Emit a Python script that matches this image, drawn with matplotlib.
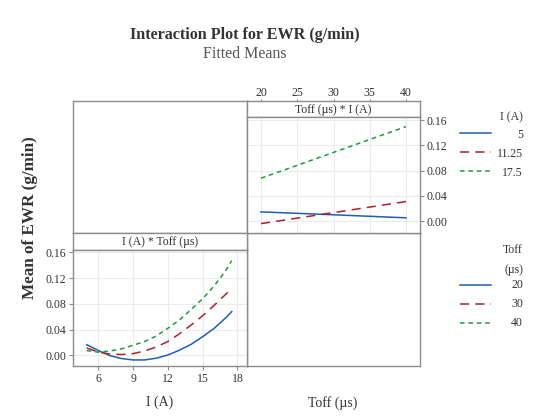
import matplotlib
matplotlib.use("Agg")
import matplotlib.pyplot as plt

plt.rcParams['font.family'] = ['Liberation Serif', 'DejaVu Serif']

# I (A) on x, one line per Toff level
current = [5, 6, 7, 8, 9, 10, 11, 12, 13, 14, 15, 16, 17, 17.5]
toff_20 = [0.0166, 0.0075, -0.0005, -0.0050, -0.0072, -0.0072, -0.0045, 0.0005,
           0.0080, 0.0170, 0.0290, 0.0420, 0.0585, 0.0680]
toff_30 = [0.0114, 0.0050, 0.0020, 0.0012, 0.0026, 0.0068, 0.0130, 0.0215,
           0.0335, 0.0470, 0.0615, 0.0780, 0.0950, 0.1040]
toff_40 = [0.0073, 0.0050, 0.0067, 0.0100, 0.0156, 0.0215, 0.0300, 0.0420,
           0.0550, 0.0710, 0.0880, 0.1080, 0.1320, 0.1470]

# Toff (us) on x, one line per I level
toff = [20, 30, 40]
i_5 = [0.0146, 0.0100, 0.0052]
i_1125 = [-0.0040, 0.0135, 0.0310]
i_175 = [0.0680, 0.1090, 0.1500]

yticks = [0.00, 0.04, 0.08, 0.12, 0.16]
ylabels = ['0.00', '0.04', '0.08', '0.12', '0.16']

blue = '#1f5fb0'
red = '#a82428'
green = '#1e9a40'
edge = '#8c8c8c'
txt = '#333333'
W, H = 542, 418

fig = plt.figure(figsize=(5.42, 4.18), dpi=100)


def box(x0, y0, x1, y1):
    # pixel box -> figure axes
    return fig.add_axes([x0 / W, 1 - y1 / H, (x1 - x0) / W, (y1 - y0) / H])


def frame(ax):
    for s in ax.spines.values():
        s.set_color(edge)
        s.set_linewidth(1.0)


def strip(x0, y0, x1, y1, label):
    ax = box(x0, y0, x1, y1)
    ax.set_xticks([])
    ax.set_yticks([])
    frame(ax)
    ax.text(0.5, 0.45, label, ha='center', va='center', fontsize=8.5, color=txt,
            transform=ax.transAxes)
    return ax


# empty panels
for b in [(73, 101, 247, 233), (247, 233, 420, 366)]:
    ax = box(*b)
    ax.set_xticks([])
    ax.set_yticks([])
    frame(ax)

# top right: Toff * I
st1 = strip(247, 101, 420, 117, 'Toff (\u00b5s) * I (A)')
ax1 = box(247, 117, 420, 233)
ax1.plot(toff, i_5, color=blue, lw=1.1, ls='-')
ax1.plot(toff, i_1125, color=red, lw=1.1, dashes=(6, 4))
ax1.plot(toff, i_175, color=green, lw=1.1, dashes=(3, 2.5))
ax1.set_xlim(18.07, 41.93)
ax1.set_ylim(-0.0189, 0.1652)
ax1.set_xticks([20, 25, 30, 35, 40])
ax1.set_yticks(yticks)
ax1.set_yticklabels(ylabels)
ax1.tick_params(axis='x', bottom=False, labelbottom=False)
ax1.yaxis.tick_right()
# top tick labels sit above the strip
st1.set_xlim(18.07, 41.93)
st1.set_xticks([20, 25, 30, 35, 40])
st1.xaxis.tick_top()
st1.tick_params(labelsize=8.5, colors=txt, length=1.5, width=0.8, pad=0)
st1.tick_params(color=edge)

# bottom left: I * Toff
strip(73, 233, 247, 250, 'I (A) * Toff (\u00b5s)')
ax2 = box(73, 250, 247, 366)
ax2.plot(current, toff_20, color=blue, lw=1.1, ls='-')
ax2.plot(current, toff_30, color=red, lw=1.1, dashes=(6, 4))
ax2.plot(current, toff_40, color=green, lw=1.1, dashes=(3, 2.5))
ax2.set_xlim(3.82, 18.82)
ax2.set_ylim(-0.0166, 0.1636)
ax2.set_xticks([6, 9, 12, 15, 18])
ax2.set_yticks(yticks)
ax2.set_yticklabels(ylabels)

for ax in (ax1, ax2):
    frame(ax)
    ax.grid(True, color='#ececec', lw=0.8)
    ax.set_axisbelow(True)
    ax.tick_params(labelsize=8.5, colors=txt, length=3, width=0.8, pad=2)
    ax.tick_params(color=edge)

# titles and axis labels
fig.text(245 / W, 1 - 35 / H, 'Interaction Plot for EWR (g/min)', ha='center', va='center',
         fontsize=11.6, fontweight='bold', color=txt)
fig.text(245 / W, 1 - 54 / H, 'Fitted Means', ha='center', va='center', fontsize=11.5,
         color='#555555')
fig.text(30 / W, 1 - 218 / H, 'Mean of EWR (g/min)', ha='center', va='center',
         rotation=90, fontsize=12.3, fontweight='bold', color=txt)
fig.text(160 / W, 1 - 402 / H, 'I (A)', ha='center', va='center', fontsize=10, color=txt)
fig.text(333 / W, 1 - 403 / H, 'Toff (\u00b5s)', ha='center', va='center', fontsize=10,
         color=txt)

# legends drawn by hand on a figure-wide overlay
lg = fig.add_axes([0, 0, 1, 1], facecolor='none')
lg.set_xlim(0, W)
lg.set_ylim(H, 0)
lg.axis('off')
styles = [dict(color=blue, ls='-'), dict(color=red, dashes=(6, 4)),
          dict(color=green, dashes=(3, 2.5))]
lg.text(523, 117, 'I (A)', ha='right', va='center', fontsize=8.5, color=txt)
for y, lab, st in zip([133, 152, 171], ['5', '11.25', '17.5'], styles):
    lg.plot([460, 491], [y, y], lw=1.1, **st)
    lg.text(523, y + 2, lab, ha='right', va='center', fontsize=8.5, color=txt)
lg.text(523, 250, 'Toff', ha='right', va='center', fontsize=8.5, color=txt)
lg.text(523, 270, '(\u00b5s)', ha='right', va='center', fontsize=8.5, color=txt)
for y, lab, st in zip([285, 304, 323], ['20', '30', '40'], styles):
    lg.plot([460, 491], [y, y], lw=1.1, **st)
    lg.text(523, y, lab, ha='right', va='center', fontsize=8.5, color=txt)

fig.savefig('out.png', dpi=100)
